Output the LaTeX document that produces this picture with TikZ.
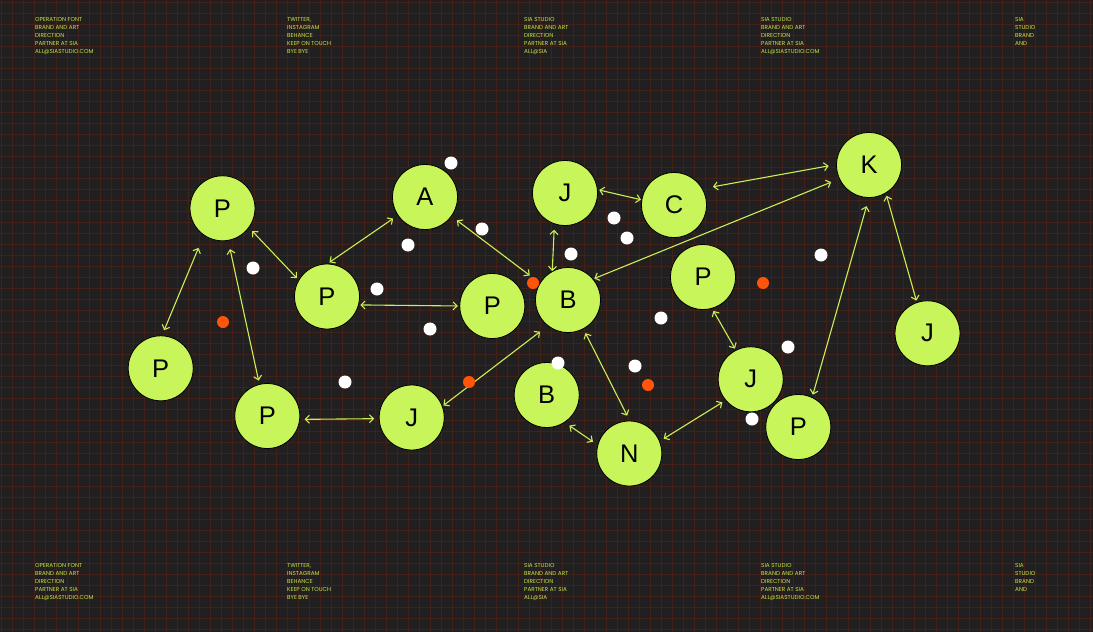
\documentclass[tikz,border=0pt]{standalone}
\usepackage{fontspec}
\setmainfont{Liberation Sans}
\newfontfamily\smallfont{Poppins}
\usetikzlibrary{positioning,arrows.meta}

\definecolor{boardbg}{RGB}{34,31,32}
\definecolor{gridred}{RGB}{66,33,25}
\definecolor{lime}{RGB}{200,245,90}
\definecolor{limeline}{RGB}{200,240,85}
\definecolor{limetext}{RGB}{195,230,70}
\definecolor{hotorange}{RGB}{255,85,10}

\tikzset{
  gridline/.style={gridred, line width=0.45pt},
  ball/.style={circle, draw=black, line width=0.8pt, fill=lime,
    minimum size=65pt, inner sep=0pt, outer sep=0pt,
    font=\fontsize{25.5}{25.5}\selectfont},
  link/.style={limeline, line width=1.1pt,
    {Straight Barb[length=4pt,width=8pt]}-{Straight Barb[length=4pt,width=8pt]},
    shorten <=4pt, shorten >=4pt},
  info/.style={limetext, anchor=north west, align=left, inner sep=0pt,
    font=\smallfont\fontsize{5.7}{7.9}\selectfont},
  spot/.style={fill=white},
  hot/.style={fill=hotorange},
}

\begin{document}
\begin{tikzpicture}[x=1pt,y=-1pt]
  % board
  \fill[boardbg] (0,0) rectangle (1093,632);
  \useasboundingbox (0,0) rectangle (1093,632);
  \foreach \gx in {0,...,99}
    \draw[gridline] ({1.5+11*\gx},0) -- ({1.5+11*\gx},632);
  \foreach \gy in {0,...,57}
    \draw[gridline] (0,{2+11*\gy}) -- (1093,{2+11*\gy});

  % header and footer texts
  \node[info] (topA) at (35,17.5) {OPERATION FONT\\BRAND AND ART\\DIRECTION\\PARTNER AT SIA\\ALL@SIASTUDIO.COM};
  \node[info] (topB) at (287,17.5) {TWITTER,\\INSTAGRAM\\BEHANCE\\KEEP ON TOUCH\\BYE BYE};
  \node[info] (topC) at (524,17.5) {SIA STUDIO\\BRAND AND ART\\DIRECTION\\PARTNER AT SIA\\ALL@SIA};
  \node[info] (topD) at (761,17.5) {SIA STUDIO\\BRAND AND ART\\DIRECTION\\PARTNER AT SIA\\ALL@SIASTUDIO.COM};
  \node[info] (topE) at (1015,17.5) {SIA\\STUDIO\\BRAND\\AND};
  \node[info] (botA) at (35,563.5) {OPERATION FONT\\BRAND AND ART\\DIRECTION\\PARTNER AT SIA\\ALL@SIASTUDIO.COM};
  \node[info] (botB) at (287,563.5) {TWITTER,\\INSTAGRAM\\BEHANCE\\KEEP ON TOUCH\\BYE BYE};
  \node[info] (botC) at (524,563.5) {SIA STUDIO\\BRAND AND ART\\DIRECTION\\PARTNER AT SIA\\ALL@SIA};
  \node[info] (botD) at (761,563.5) {SIA STUDIO\\BRAND AND ART\\DIRECTION\\PARTNER AT SIA\\ALL@SIASTUDIO.COM};
  \node[info] (botE) at (1015,563.5) {SIA\\STUDIO\\BRAND\\AND};

  % circles
  \node[ball] (p1) at (222.5,208.3) {P};
  \node[ball] (a) at (425,197) {A};
  \node[ball] (j1) at (565,193) {J};
  \node[ball] (c) at (674,205) {C};
  \node[ball] (k) at (869,165) {K};
  \node[ball] (p2) at (327,296.5) {P};
  \node[ball] (p3) at (492.3,306) {P};
  \node[ball] (b1) at (568,300) {B};
  \node[ball] (p4) at (703,277) {P};
  \node[ball] (j2) at (927.5,333.3) {J};
  \node[ball] (p5) at (160.7,368.3) {P};
  \node[ball] (p6) at (267.3,416) {P};
  \node[ball] (j3) at (411.7,417.5) {J};
  \node[ball] (b2) at (546.7,395) {B};
  \node[ball] (n) at (629.3,453.5) {N};
  \node[ball] (j4) at (750.7,379.3) {J};
  \node[ball] (p7) at (798.3,427) {P};

  % links
  \draw[link, shorten <=14pt, shorten >=6pt] (p1.-125) -- (p5.88);
  \draw[link, shorten <=9pt] (p1.-80) -- (p6.104);
  \draw[link, shorten <=5pt, shorten >=3pt] (p1.-36) -- (p2.150);
  \draw[link, shorten <=3pt, shorten >=6pt] (p2.90) -- (a.-146);
  \draw[link, shorten <=2pt, shorten >=2pt] (p2.-15) -- (p3.180);
  \draw[link, shorten <=7pt, shorten >=13pt] (a.-36) -- (b1.149);
  \draw[link, shorten <=6pt, shorten >=0.5pt] (j1.-109) -- (b1.119);
  \draw[link, shorten <=2pt, shorten >=1pt] (j1.6) -- (c.171);
  \draw[link, shorten <=11pt, shorten >=8pt] (c.30) -- (k.179);
  \draw[link, shorten <=1.5pt, shorten >=9pt] (b1.40) -- (k.-155);
  \draw[link, shorten <=3pt, shorten >=2pt] (k.-59) -- (j2.109);
  \draw[link, shorten <=9pt, shorten >=3pt] (k.-90) -- (p7.65);
  \draw[link, shorten <=5pt, shorten >=5pt] (p6.-6) -- (j3.182);
  \draw[link, shorten <=1.5pt, shorten >=10pt] (j3.20) -- (b1.-128);
  \draw[link, shorten <=5pt, shorten >=6pt] (b1.-62) -- (n.89);
  \draw[link, shorten <=6pt, shorten >=6pt] (b2.-57) -- (n.165);
  \draw[link, shorten <=5pt, shorten >=4pt] (n.22) -- (j4.-140);
  \draw[link, shorten <=3pt, shorten >=2pt] (p4.-74) -- (j4.117);

  % white dots
  \foreach \dx/\dy in {451/163, 408/245, 482/229, 253/268, 377/289, 430/329,
      345/382, 614/218, 627/238, 571/254, 821/255, 661/318, 558/363,
      635/366, 788/347, 752/419}
    \fill[spot] (\dx,\dy) circle (6.5);
  % orange dots
  \foreach \dx/\dy in {223/322, 533/283, 763/283, 469/382, 648/385}
    \fill[hot] (\dx,\dy) circle (6);
\end{tikzpicture}
\end{document}
